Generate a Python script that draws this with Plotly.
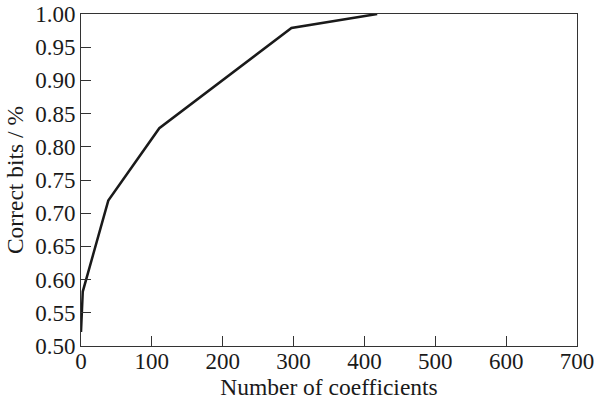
import plotly.graph_objects as go

# Correct-bit ratio as a function of the number of coefficients
coefficients = [0, 2.5, 38.5, 110.5, 297, 418]
correct_bits = [0.521, 0.582, 0.719, 0.828, 0.979, 1.0]

x_ticks = [0, 100, 200, 300, 400, 500, 600, 700]
y_ticks = [0.50, 0.55, 0.60, 0.65, 0.70, 0.75, 0.80, 0.85, 0.90, 0.95, 1.00]

font_family = "Liberation Serif"
text_color = "#1a1a1a"

fig = go.Figure()
fig.add_trace(go.Scatter(
    x=coefficients, y=correct_bits, mode="lines",
    line=dict(color=text_color, width=2.5),
    showlegend=False, cliponaxis=False,
))

axis_common = dict(
    showgrid=False, zeroline=False, showline=True, mirror=True,
    linecolor="#333333", linewidth=1, automargin=False,
    ticks="inside", tickcolor="#333333", tickwidth=1, ticklen=10,
    tickfont=dict(family=font_family, size=23, color=text_color),
)

fig.update_xaxes(
    range=[0, 700], tickvals=x_ticks, ticklabelstandoff=-6,
    title=dict(text="Number of coefficients", standoff=0,
               font=dict(family=font_family, size=23.5, color=text_color)),
    **axis_common,
)
fig.update_yaxes(
    range=[0.5, 1.0], tickvals=y_ticks, tickformat=".2f",
    title=dict(text="Correct bits / %", standoff=4,
               font=dict(family=font_family, size=23.5, color=text_color)),
    **axis_common,
)

fig.update_layout(
    width=596, height=400,
    margin=dict(l=81, r=19, t=14, b=54),
    paper_bgcolor="white", plot_bgcolor="white",
)

fig.write_html("out.html")
